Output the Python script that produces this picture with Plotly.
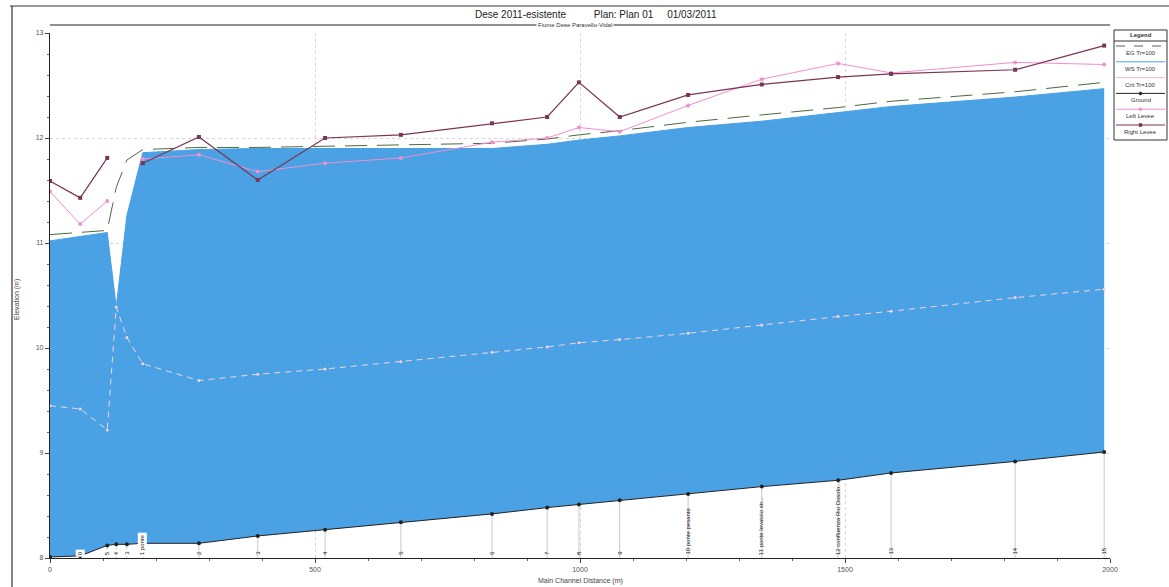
import plotly.graph_objects as go

# Main channel distance of each cross section (m)
station = [0, 57, 108, 125, 145, 175, 281, 392, 519, 662, 834, 938, 998, 1075,
           1204, 1343, 1487, 1587, 1821, 1989]
section_label = ["", "0", "5", "4", "3", "1 ponte", "2", "3", "4", "5", "6", "7", "8", "9",
                 "10 ponte pesante", "11 ponte levatoio str...", "12 confluenza Rio Dosolo...",
                 "13", "14", "15"]

ground = [8.01, 8.02, 8.12, 8.13, 8.13, 8.14, 8.14, 8.21, 8.27, 8.34, 8.42, 8.48, 8.51,
          8.55, 8.61, 8.68, 8.74, 8.81, 8.92, 9.01]
ws = [11.02, 11.06, 11.10, 10.39, 11.26, 11.86, 11.89, 11.90, 11.90, 11.90, 11.90, 11.94,
      11.98, 12.02, 12.10, 12.16, 12.24, 12.30, 12.39, 12.47]
eg = [11.08, 11.10, 11.12, 11.53, 11.79, 11.89, 11.91, 11.91, 11.92, 11.93, 11.95, 11.99,
      12.03, 12.07, 12.15, 12.22, 12.29, 12.35, 12.44, 12.53]
crit = [9.45, 9.42, 9.22, 10.39, 10.10, 9.85, 9.69, 9.75, 9.80, 9.87, 9.96, 10.01, 10.05,
        10.08, 10.14, 10.22, 10.30, 10.35, 10.48, 10.56]
left_levee = [11.49, 11.18, 11.40, None, None, 11.80, 11.84, 11.68, 11.76, 11.81, 11.96,
              12.00, 12.10, 12.06, 12.31, 12.56, 12.71, 12.62, 12.72, 12.70]
right_levee = [11.59, 11.43, 11.81, None, None, 11.76, 12.01, 11.60, 12.00, 12.03, 12.14,
               12.20, 12.53, 12.20, 12.41, 12.51, 12.58, 12.61, 12.65, 12.88]

BLUE = "#4aa1e3"
EG_C = "#4d6a3c"
CRIT_C = "#f5d3e4"
LL_C = "#f08fd0"
RL_C = "#7a3552"
FONT = "Liberation Sans"

# plot area in pixels: x 50..1110, y 33..558
L, R, T, B = 50, 59, 33, 29
W, H = 1169, 587
PW, PH = W - L - R, H - T - B


def px(pix):
    return (pix - L) / PW


def py(pix):
    return (H - B - pix) / PH


def note(x, y, text, size=6, color="#333333", **kw):
    fig.add_annotation(xref="paper", yref="paper", x=px(x), y=py(y), text=text,
                       showarrow=False, xanchor=kw.pop("xanchor", "center"),
                       yanchor=kw.pop("yanchor", "middle"),
                       font=dict(size=size, color=color, family=FONT), **kw)


fig = go.Figure()

# vertical drop lines from each ground point to the axis
dx, dy = [], []
for s, g in zip(station, ground):
    dx += [s, s, None]
    dy += [g, 8, None]
fig.add_trace(go.Scatter(x=dx, y=dy, mode="lines", line=dict(color="#c9c9c9", width=1),
                         hoverinfo="skip"))

# water body: fill between ground and water surface
fig.add_trace(go.Scatter(x=station, y=ground, mode="lines", line=dict(width=0),
                         hoverinfo="skip"))
fig.add_trace(go.Scatter(x=station, y=ws, mode="lines", fill="tonexty", fillcolor=BLUE,
                         line=dict(color=BLUE, width=1), name="WS Tr=100"))

fig.add_trace(go.Scatter(x=station, y=crit, mode="lines+markers",
                         line=dict(color=CRIT_C, width=1, dash="6px,5px"),
                         marker=dict(size=3, color=CRIT_C), name="Crit Tr=100"))
fig.add_trace(go.Scatter(x=station, y=eg, mode="lines",
                         line=dict(color=EG_C, width=1, dash="22px,10px"),
                         name="EG Tr=100"))
fig.add_trace(go.Scatter(x=station, y=left_levee, mode="lines+markers",
                         line=dict(color=LL_C, width=1), marker=dict(size=4, color=LL_C),
                         name="Left Levee"))
fig.add_trace(go.Scatter(x=station, y=right_levee, mode="lines+markers",
                         line=dict(color=RL_C, width=1.2),
                         marker=dict(size=4, color=RL_C, symbol="square"),
                         name="Right Levee"))
fig.add_trace(go.Scatter(x=station, y=ground, mode="lines+markers",
                         line=dict(color="#222222", width=1), marker=dict(size=4, color="#222222"),
                         name="Ground"))

# section labels along the bottom
for s, lab in zip(station, section_label):
    if not lab:
        continue
    small = s < 200
    fig.add_annotation(x=s, y=8.01, text=lab, textangle=-90, showarrow=False,
                       xanchor="center", yanchor="bottom",
                       font=dict(size=6, color="#111111", family=FONT),
                       bgcolor="white" if small else None, borderpad=1)

# reach bar above the plot
fig.add_shape(type="line", xref="paper", yref="paper", x0=0, x1=1, y0=py(25), y1=py(25),
              line=dict(color="#222222", width=1.2))
note(575, 25, "Fiume Dese Paravello-Vidal", bgcolor="white", borderpad=1)

# title
note(596, 14, "Dese 2011-esistente&nbsp;&nbsp;&nbsp;&nbsp;&nbsp;&nbsp;&nbsp;&nbsp;&nbsp;&nbsp;"
              "Plan: Plan 01&nbsp;&nbsp;&nbsp;&nbsp;&nbsp;01/03/2011", size=10, color="#222222")

# axis titles
note(580, 581, "Main Channel Distance (m)", size=7, color="#444444")
note(17, 300, "Elevation (m)", size=7, color="#444444", textangle=-90)

# outer frame lines
fig.add_shape(type="line", xref="paper", yref="paper", x0=px(10), x1=px(1169), y0=py(6), y1=py(6),
              line=dict(color="#333333", width=1.2))
fig.add_shape(type="line", xref="paper", yref="paper", x0=px(12), x1=px(12), y0=py(587), y1=py(6),
              line=dict(color="#333333", width=1.2))

# legend box
fig.add_shape(type="rect", xref="paper", yref="paper", x0=px(1114), x1=px(1167),
              y0=py(140), y1=py(30), line=dict(color="#333333", width=1), fillcolor="white")
fig.add_shape(type="line", xref="paper", yref="paper", x0=px(1114), x1=px(1167),
              y0=py(41), y1=py(41), line=dict(color="#333333", width=1))
note(1140.5, 35.5, "<b>Legend</b>")

legend_items = [
    ("EG Tr=100", EG_C, "dash", None),
    ("WS Tr=100", BLUE, "solid", None),
    ("Crit Tr=100", "#f0b8d0", "solid", None),
    ("Ground", "#222222", "solid", "circle"),
    ("Left Levee", LL_C, "solid", "circle"),
    ("Right Levee", RL_C, "solid", "square"),
]
for k, (name, col, dash, sym) in enumerate(legend_items):
    yl = 46 + k * 15.8
    fig.add_shape(type="line", xref="paper", yref="paper", x0=px(1116), x1=px(1165),
                  y0=py(yl), y1=py(yl), line=dict(color=col, width=1, dash=dash))
    if sym:
        fig.add_shape(type="circle" if sym == "circle" else "rect", xref="paper", yref="paper",
                      x0=px(1139), x1=px(1142), y0=py(yl + 1.5), y1=py(yl - 1.5),
                      line=dict(color=col, width=0.5), fillcolor=col)
    note(1140.5, yl + 7, name)

fig.update_layout(
    width=W, height=H,
    margin=dict(l=L, r=R, t=T, b=B, autoexpand=False),
    paper_bgcolor="white", plot_bgcolor="white",
    showlegend=False,
    font=dict(family=FONT, size=7, color="#555555"),
    xaxis=dict(range=[0, 2000], tickvals=[0, 500, 1000, 1500, 2000], automargin=False,
               showgrid=True, gridcolor="#d6d6d6", griddash="dot", gridwidth=1,
               zeroline=False, showline=True, linecolor="#222222", linewidth=1.2,
               ticks="outside", ticklen=4, tickcolor="#444444",
               minor=dict(dtick=100, ticks="outside", ticklen=2, tickcolor="#666666", showgrid=False),
               tickfont=dict(size=7, color="#555555")),
    yaxis=dict(range=[8, 13], tickvals=[8, 9, 10, 11, 12, 13], automargin=False,
               showgrid=True, gridcolor="#d6d6d6", griddash="dot", gridwidth=1,
               zeroline=False, showline=True, linecolor="#222222", linewidth=1.2,
               ticks="outside", ticklen=4, tickcolor="#444444",
               minor=dict(dtick=0.2, ticks="outside", ticklen=2, tickcolor="#666666", showgrid=False),
               tickfont=dict(size=7, color="#555555")),
)

fig.write_html("out.html")
